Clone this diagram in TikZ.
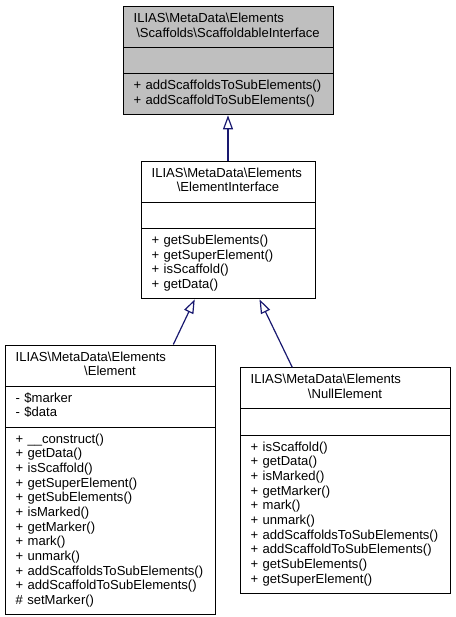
\documentclass[tikz,border=0pt]{standalone}
\usepackage{fontspec}
\setmainfont{Liberation Sans}
\usetikzlibrary{shapes.multipart,arrows.meta,calc}

\definecolor{edgeblue}{HTML}{191970}
\definecolor{classgray}{HTML}{BFBFBF}

\tikzset{
    umlclass/.style={draw=black, line width=0.75pt, fill=white, anchor=north,
        rectangle split, rectangle split parts=3,
        inner xsep=8pt, inner ysep=4pt, align=left, text width=141.5pt,
        font=\fontsize{9.8pt}{11pt}\selectfont},
    inherits/.style={draw=edgeblue, line width=0.9pt,
        -{Triangle[open,length=10.5pt,width=7.5pt]}}
}

\begin{document}
\begin{tikzpicture}[x=0.75pt,y=-0.75pt]
    \useasboundingbox (0,0) rectangle (456,617);
    % the base interface, grey as doxygen draws it
    \node[umlclass, fill=classgray] (scaffoldable) at (228,6) {%
        \strut ILIAS\textbackslash MetaData\textbackslash Elements\\
        \strut\hfill\textbackslash Scaffolds\textbackslash ScaffoldableInterface\hfill\strut
        \nodepart{second}\strut
        \nodepart{third}
        \strut+~addScaffoldsToSubElements()\\
        \strut+~addScaffoldToSubElements()};
    \node[umlclass, text width=114.5pt] (elementif) at (228,160.7) {%
        \strut ILIAS\textbackslash MetaData\textbackslash Elements\\
        \strut\hfill\textbackslash ElementInterface\hfill\strut
        \nodepart{second}\strut
        \nodepart{third}
        \strut+~getSubElements()\\
        \strut+~getSuperElement()\\
        \strut+~isScaffold()\\
        \strut+~getData()};
    \node[umlclass] (element) at (110,344.5) {%
        \strut ILIAS\textbackslash MetaData\textbackslash Elements\\
        \strut\hfill\textbackslash Element\hfill\strut
        \nodepart{second}
        \strut-~\$marker\\
        \strut-~\$data
        \nodepart{third}
        \strut+~\_\_construct()\\
        \strut+~getData()\\
        \strut+~isScaffold()\\
        \strut+~getSuperElement()\\
        \strut+~getSubElements()\\
        \strut+~isMarked()\\
        \strut+~getMarker()\\
        \strut+~mark()\\
        \strut+~unmark()\\
        \strut+~addScaffoldsToSubElements()\\
        \strut+~addScaffoldToSubElements()\\
        \strut\#~setMarker()};
    \node[umlclass] (nullelement) at (345,367.3) {%
        \strut ILIAS\textbackslash MetaData\textbackslash Elements\\
        \strut\hfill\textbackslash NullElement\hfill\strut
        \nodepart{second}\strut
        \nodepart{third}
        \strut+~isScaffold()\\
        \strut+~getData()\\
        \strut+~isMarked()\\
        \strut+~getMarker()\\
        \strut+~mark()\\
        \strut+~unmark()\\
        \strut+~addScaffoldsToSubElements()\\
        \strut+~addScaffoldToSubElements()\\
        \strut+~getSubElements()\\
        \strut+~getSuperElement()};

    % inheritance
    \draw[inherits] (elementif.north) -- (scaffoldable.south);
    \draw[inherits] ($(element.north west)!.8!(element.north east)$) -- ($(elementif.south west)!.31!(elementif.south east)$);
    \draw[inherits] ($(nullelement.north west)!.25!(nullelement.north east)$) -- ($(elementif.south west)!.68!(elementif.south east)$);
\end{tikzpicture}
\end{document}
